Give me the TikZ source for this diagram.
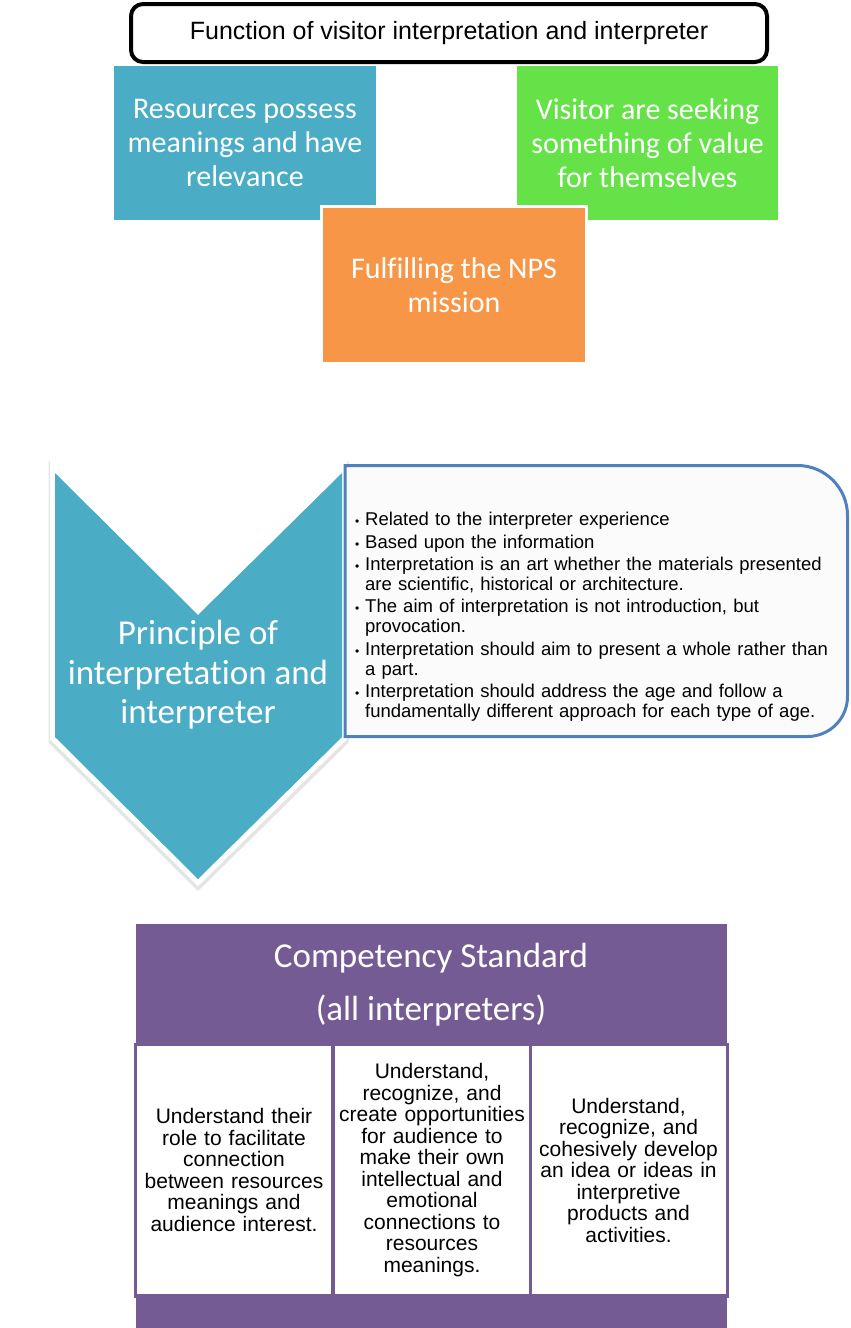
\documentclass[tikz,border=0pt]{standalone}
\usepackage{fontspec}
\setmainfont{Liberation Sans}
\newfontfamily\calib[Ligatures={NoCommon}]{Carlito}
\definecolor{cteal}{RGB}{75,172,198}
\definecolor{cgreen}{RGB}{100,226,72}
\definecolor{corange}{RGB}{247,150,70}
\definecolor{cblue}{RGB}{79,129,189}
\definecolor{cpurple}{RGB}{117,91,148}
\newcommand{\mybul}{\par\noindent\hangindent=10pt\hangafter=1\makebox[10pt][l]{\fontsize{12}{12}\selectfont\textbullet}}
\tikzset{
  colbox/.style={minimum width=262, minimum height=154, inner sep=0, text=white, align=center, font=\calib\fontsize{30}{34}\selectfont},
  celltext/.style={text width=192, inner sep=0, align=center, font=\fontsize{21}{21.5}\selectfont},
  cellbox/.style={draw=cpurple, line width=3.5, fill=white},
}
\begin{document}
\begin{tikzpicture}[x=1pt,y=-1pt]
\useasboundingbox (0,0) rectangle (851,1328);
% title
\node[draw=black, line width=4, rounded corners=12, minimum width=636, minimum height=58, fill=white, inner sep=0, font=\fontsize{25}{28}\selectfont] (title) at (449,33) {Function of visitor interpretation and interpreter};
% three coloured boxes
\node[colbox, fill=cteal] (res) at (245,143) {Resources possess\\meanings and have\\relevance};
\node[colbox, fill=cgreen, minimum width=261] (vis) at (647.5,143) {Visitor are seeking\\something of value\\for themselves};
\node[colbox, fill=corange, draw=white, line width=3, minimum width=265, minimum height=157] (nps) at (454,285) {Fulfilling the NPS\\mission};
% chevron
\draw[line width=13, black!10, line join=miter] (55,476) -- (198,618) -- (342,476) -- (342,740) -- (198,882) -- (55,740) -- cycle;
\draw[line width=10, white, line join=miter] (55,473) -- (198,615) -- (342,473) -- (342,737) -- (198,879) -- (55,737) -- cycle;
\fill[cteal] (55,473) -- (198,615) -- (342,473) -- (342,737) -- (198,879) -- (55,737) -- cycle;
\node[text=white, align=center, inner sep=0, font=\calib\fontsize{35}{39.5}\selectfont] (prin) at (198,675) {Principle of\\interpretation and\\interpreter};
% bullet box
\draw[draw=cblue, line width=3, fill=black!1.5] (345,465.5) [rounded corners=50] -- (847.5,465.5) [rounded corners=40] -- (847.5,736.5) [sharp corners] -- (345,736.5) -- cycle;
\node[anchor=north west, inner sep=0, text width=490, align=left, font=\fontsize{18.5}{20}\selectfont] (bul) at (355,503) {\setlength{\parskip}{2.4pt}%
\mybul Related to the interpreter experience
\mybul Based upon the information
\mybul Interpretation is an art whether the materials presented\newline are scientific, historical or architecture.
\mybul The aim of interpretation is not introduction, but\newline provocation.
\mybul Interpretation should aim to present a whole rather than\newline a part.
\mybul Interpretation should address the age and follow a\newline fundamentally different approach for each type of age.\par};
% competency table
\fill[cpurple] (136,924) rectangle (727,1045);
\fill[cpurple] (136,1294) rectangle (727,1328);
\node[text=white, align=center, inner sep=0, font=\calib\fontsize{35}{53}\selectfont] (head) at (431,985) {Competency Standard\\(all interpreters)};
\draw[cellbox] (135.5,1044.5) rectangle (333,1296);
\draw[cellbox] (333,1044.5) rectangle (530.5,1296);
\draw[cellbox] (530.5,1044.5) rectangle (727.5,1296);
\node[celltext] (c1) at (234,1170) {Understand their\\role to facilitate\\connection\\between resources\\meanings and\\audience interest.};
\node[celltext] (c2) at (432,1170) {Understand,\\recognize, and\\create opportunities\\for audience to\\make their own\\intellectual and\\emotional\\connections to\\resources\\meanings.};
\node[celltext] (c3) at (628.5,1170) {Understand,\\recognize, and\\cohesively develop\\an idea or ideas in\\interpretive\\products and\\activities.};
\end{tikzpicture}
\end{document}
